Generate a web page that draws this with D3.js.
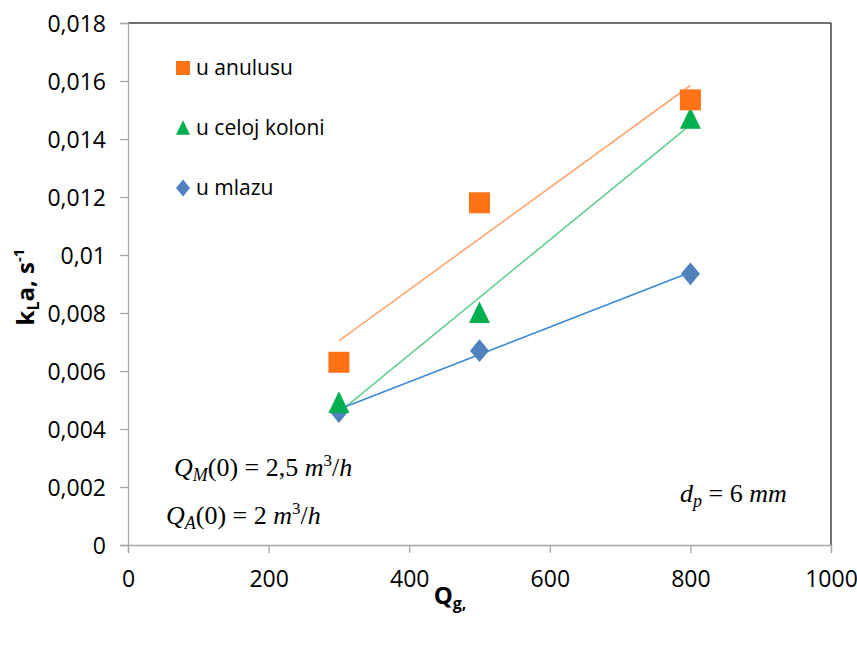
<!DOCTYPE html>
<html>
<head>
<meta charset="utf-8">
<script src="https://cdn.jsdelivr.net/npm/d3@7"></script>
<style>
  body { margin: 0; background: #fff; }
  text { font-family: "Open Sans", sans-serif; fill: #000; }
  .math { font-family: "Liberation Serif", serif; }
</style>
</head>
<body>
<div id="chart"></div>
<script>
// Qg values and kLa per position
var qg = [300, 500, 800]
var anulus = [0.0063, 0.0118, 0.01535]
var kolona = [0.0049, 0.0080, 0.0147]
var mlaz = [0.0046, 0.0067, 0.00935]

var xTicks = [0, 200, 400, 600, 800, 1000]
var yTicks = [0, 0.002, 0.004, 0.006, 0.008, 0.01, 0.012, 0.014, 0.016, 0.018]

var series = [
  {name: 'u anulusu', vals: anulus, fill: '#ff7216', line: '#ffa670', shape: 'square'},
  {name: 'u celoj koloni', vals: kolona, fill: '#00b050', line: '#5fd08f', shape: 'triangle'},
  {name: 'u mlazu', vals: mlaz, fill: '#4f81bd', line: '#3a8bd8', shape: 'diamond'}
]

var W = 857, H = 650
var margin = {left: 128, top: 23, right: 26, bottom: 105}
var width = W - margin.left - margin.right
var height = H - margin.top - margin.bottom

var svg = d3.select('#chart').append('svg').attr('width', W).attr('height', H)
var g = svg.append('g').attr('transform', 'translate(' + margin.left + ',' + margin.top + ')')

var x = d3.scaleLinear().domain([0, 1000]).range([0, width])
var y = d3.scaleLinear().domain([0, 0.018]).range([height, 0])

function fmt(d){ return d === 0 ? '0' : String(+d.toFixed(3)).replace('.', ',') }

// frame: top and right dark, left and bottom grey axes
g.append('line').attr('x1', 0).attr('x2', width).attr('y1', 0).attr('y2', 0)
  .attr('stroke', '#404040').attr('stroke-width', 1.5)
g.append('line').attr('x1', width).attr('x2', width).attr('y1', 0).attr('y2', height)
  .attr('stroke', '#404040').attr('stroke-width', 1.5)

var yAxis = g.append('g')
  .call(d3.axisLeft(y).tickValues(yTicks).tickFormat(fmt).tickSize(8).tickPadding(14))
var xAxis = g.append('g').attr('transform', 'translate(0,' + height + ')')
  .call(d3.axisBottom(x).tickValues(xTicks).tickFormat(d3.format('d')).tickSize(8).tickPadding(18))

;[xAxis, yAxis].forEach(function(a){
  a.select('.domain').attr('stroke', '#a6a6a6').attr('stroke-width', 1.3)
  a.selectAll('.tick line').attr('stroke', '#a6a6a6').attr('stroke-width', 1.3)
  a.selectAll('.tick text').attr('font-size', 23).attr('font-family', '"Open Sans", sans-serif').attr('fill', '#000')
})
yAxis.selectAll('.tick text').attr('dy', '0.38em')

// linear trendlines (least squares through each series)
function fit(xs, ys){
  var mx = d3.mean(xs), my = d3.mean(ys)
  var sxy = d3.sum(xs, function(v, i){ return (v - mx) * (ys[i] - my) })
  var sxx = d3.sum(xs, function(v){ return (v - mx) * (v - mx) })
  var b = sxy / sxx
  return function(v){ return my + b * (v - mx) }
}

var line = d3.line().x(function(d){ return x(d[0]) }).y(function(d){ return y(d[1]) })
var ext = d3.extent(qg)

series.forEach(function(s){
  var f = fit(qg, s.vals)
  g.append('path').attr('d', line([[ext[0], f(ext[0])], [ext[1], f(ext[1])]]))
    .attr('fill', 'none').attr('stroke', s.line).attr('stroke-width', 1.6)
})

function marker(shape, r){
  if (shape == 'square') return 'M' + -r + ',' + -r + 'H' + r + 'V' + r + 'H' + -r + 'Z'
  if (shape == 'triangle') return 'M0,' + (-r * 1.1) + 'L' + r + ',' + r * 0.95 + 'L' + -r + ',' + r * 0.95 + 'Z'
  return 'M0,' + (-r * 1.2) + 'L' + r + ',0L0,' + r * 1.2 + 'L' + -r + ',0Z'
}

series.slice().reverse().forEach(function(s){
  g.selectAll(null).data(qg).enter().append('path')
    .attr('transform', function(d, i){ return 'translate(' + x(d) + ',' + y(s.vals[i]) + ')' })
    .attr('d', marker(s.shape, s.shape == 'diamond' ? 9.5 : 10.5))
    .attr('fill', s.fill)
})

// legend
var leg = svg.append('g').attr('transform', 'translate(183,68)')
series.forEach(function(s, i){
  var row = leg.append('g').attr('transform', 'translate(0,' + i * 60 + ')')
  row.append('path').attr('d', marker(s.shape, 7)).attr('fill', s.fill)
  row.append('text').attr('x', 13).attr('dy', '0.35em').attr('font-size', 21).text(s.name)
})

// axis titles
var xt = svg.append('text').attr('x', 450).attr('y', 604).attr('text-anchor', 'middle')
  .attr('font-size', 24).attr('font-weight', 'bold')
xt.append('tspan').text('Q')
xt.append('tspan').attr('font-size', 16).attr('dy', 5).text('g,')

var yt = svg.append('text').attr('transform', 'translate(34,287) rotate(-90)').attr('text-anchor', 'middle')
  .attr('font-size', 24).attr('font-weight', 'bold')
yt.append('tspan').text('k')
yt.append('tspan').attr('font-size', 16).attr('dy', 5).text('L')
yt.append('tspan').attr('dy', -5).text('a, s')
yt.append('tspan').attr('font-size', 15).attr('dy', -10).text('-1')

// annotations
function math(px, py, parts){
  var t = svg.append('text').attr('class', 'math').attr('x', px).attr('y', py).attr('font-size', 26)
  parts.forEach(function(p){
    t.append('tspan').attr('font-style', p.i ? 'italic' : 'normal')
      .attr('font-size', p.s || null).attr('dy', p.dy || 0).text(p.t)
  })
}
math(174, 476, [{t: 'Q', i: 1}, {t: 'M', i: 1, s: 18, dy: 5}, {t: '(0) = 2,5 ', dy: -5},
  {t: 'm', i: 1}, {t: '3', s: 17, dy: -10}, {t: '/', dy: 10}, {t: 'h', i: 1}])
math(166, 524, [{t: 'Q', i: 1}, {t: 'A', i: 1, s: 18, dy: 5}, {t: '(0) = 2 ', dy: -5},
  {t: 'm', i: 1}, {t: '3', s: 17, dy: -10}, {t: '/', dy: 10}, {t: 'h', i: 1}])
math(680, 502, [{t: 'd', i: 1}, {t: 'p', i: 1, s: 18, dy: 5}, {t: ' = 6 ', dy: -5}, {t: 'mm', i: 1}])
</script>
</body>
</html>
